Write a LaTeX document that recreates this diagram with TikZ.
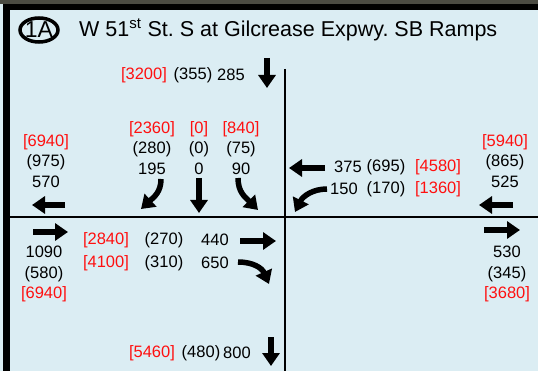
\documentclass[tikz,border=0pt]{standalone}
\usepackage{fontspec}
\setmainfont{Liberation Sans}
\usetikzlibrary{arrows.meta, shapes.geometric}
\definecolor{panel}{HTML}{DBEDF3}
\definecolor{photo}{HTML}{4B4B42}
\definecolor{peak}{HTML}{FF1010}
\newcommand{\pk}[1]{\textcolor{peak}{[#1]}}

\begin{document}
\begin{tikzpicture}[
  x=1pt, y=-1pt,
  num/.style={font=\fontsize{16.5}{20.5}\selectfont, inner sep=0pt, align=center},
  road/.style={line width=2.5pt},
  move/.style={line width=5.5pt, -{Triangle[length=13pt, width=17pt]}}
]
\useasboundingbox (0,0) rectangle (538,371);
% panel and frame
\fill[panel] (0,0) rectangle (538,371);
\fill[photo] (0,0) rectangle (538,4);
\fill[black] (3,4) rectangle (538,10);
\fill[black] (3,4) rectangle (10,371);

% title
\node[draw, ellipse, line width=3.5pt, minimum width=38pt, minimum height=24pt, inner sep=0pt] (badge) at (39,30) {};
\node[inner sep=0pt, font=\fontsize{23}{23}\selectfont] (badgeText) at (badge.center) {1A};
\node[anchor=west, inner sep=0pt, font=\fontsize{21.5}{22}\selectfont] (title) at (79,30)
  {W 51\textsuperscript{st} St.\ S at Gilcrease Expwy.\ SB Ramps};

% roads
\coordinate (nEnd) at (285,69);
\coordinate (sEnd) at (285,371);
\coordinate (wEnd) at (10,217);
\coordinate (eEnd) at (538,217);
\draw[road] (nEnd) -- (sEnd);
\draw[road] (wEnd) -- (eEnd);

% north leg
\node[num] (nPk) at (144,75) {\pk{3200}};
\node[num] (nMid) at (193,75) {(355)};
\node[num] (nAm) at (231,75) {285};
\coordinate (nA1) at (267,58);
\coordinate (nA2) at (267,88);
\draw[move] (nA1) -- (nA2);

% southbound approach
\node[num] (sbR) at (152,148) {\pk{2360}\\(280)\\195};
\node[num] (sbT) at (199,148) {\pk{0}\\(0)\\0};
\node[num] (sbL) at (241,148) {\pk{840}\\(75)\\90};
\coordinate (sbR1) at (161,179);
\coordinate (sbR2) at (141,209);
\coordinate (sbT1) at (199,178);
\coordinate (sbT2) at (199,213);
\coordinate (sbL1) at (238,178);
\coordinate (sbL2) at (258,210);
\draw[move] (sbR1) .. controls (161,192) and (154,197) .. (sbR2);
\draw[move] (sbT1) -- (sbT2);
\draw[move] (sbL1) .. controls (238,192) and (245,197) .. (sbL2);

% west leg
\node[num] (wOut) at (46,161) {\pk{6940}\\(975)\\570};
\coordinate (wO1) at (65,205);
\coordinate (wO2) at (32,205);
\draw[move] (wO1) -- (wO2);
\coordinate (wI1) at (33,232);
\coordinate (wI2) at (68,232);
\draw[move] (wI1) -- (wI2);
\node[num] (wIn) at (44,274) {1090\\(580)\\\pk{6940}};

% eastbound approach
\node[num] (ebTpk) at (106,240) {\pk{2840}};
\node[num] (ebTmid) at (164,240) {(270)};
\node[num] (ebTam) at (215,240) {440};
\node[num] (ebRpk) at (106,263) {\pk{4100}};
\node[num] (ebRmid) at (164,263) {(310)};
\node[num] (ebRam) at (215,263) {650};
\coordinate (ebT1) at (240,241);
\coordinate (ebT2) at (276,241);
\coordinate (ebR1) at (238,262);
\coordinate (ebR2) at (269,284);
\draw[move] (ebT1) -- (ebT2);
\draw[move] (ebR1) .. controls (253,262) and (262,268) .. (ebR2);

% westbound approach
\node[num] (wbTam) at (348,167) {375};
\node[num] (wbTmid) at (386,167) {(695)};
\node[num] (wbTpk) at (438,167) {\pk{4580}};
\node[num] (wbLam) at (344,189) {150};
\node[num] (wbLmid) at (386,189) {(170)};
\node[num] (wbLpk) at (438,189) {\pk{1360}};
\coordinate (wbT1) at (325,168);
\coordinate (wbT2) at (289,168);
\coordinate (wbL1) at (327,189);
\coordinate (wbL2) at (295,212);
\draw[move] (wbT1) -- (wbT2);
\draw[move] (wbL1) .. controls (313,189) and (303,196) .. (wbL2);

% east leg
\node[num] (eIn) at (505,161) {\pk{5940}\\(865)\\525};
\coordinate (eI1) at (513,205);
\coordinate (eI2) at (479,205);
\draw[move] (eI1) -- (eI2);
\coordinate (eO1) at (484,230);
\coordinate (eO2) at (520,230);
\draw[move] (eO1) -- (eO2);
\node[num] (eOut) at (507,274) {530\\(345)\\\pk{3680}};

% south leg
\node[num] (sPk) at (152,353) {\pk{5460}};
\node[num] (sMid) at (201,353) {(480)};
\node[num] (sAm) at (237,353) {800};
\coordinate (sA1) at (271,337);
\coordinate (sA2) at (271,366);
\draw[move] (sA1) -- (sA2);
\end{tikzpicture}
\end{document}
